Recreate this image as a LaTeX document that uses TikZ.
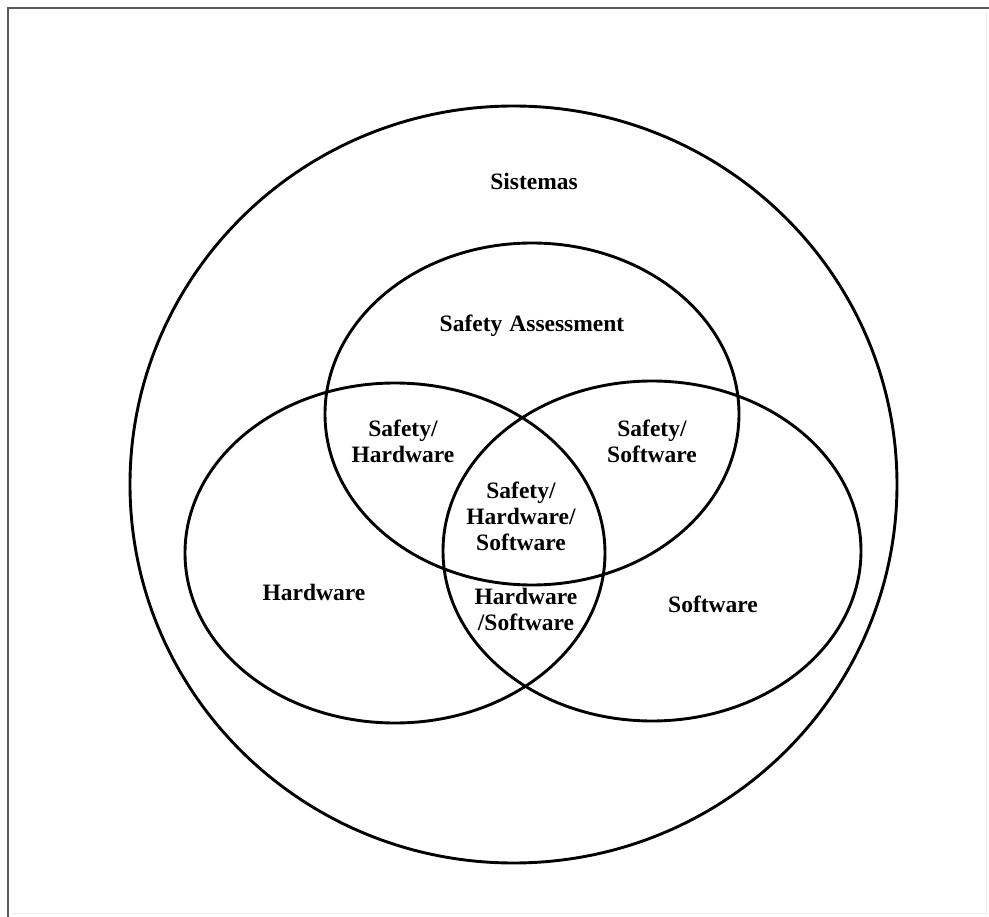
\documentclass[tikz,border=0pt]{standalone}
\usepackage{fontspec}
\setmainfont{Liberation Serif}

\begin{document}
\begin{tikzpicture}[x=1pt, y=-1pt, line width=2.9pt,
    setlabel/.style={font=\bfseries\fontsize{23.5}{26}\selectfont, align=center, inner sep=0pt}]
    \useasboundingbox (0,0) rectangle (989,917);
    % frame
    \draw[line width=2pt, black!65] (8,917) -- (8,8) -- (989,8);
    \draw[line width=1pt, black!8] (986,12) -- (986,913) -- (12,913);
    % sets
    \draw (513.5,484.5) ellipse [x radius=383.5, y radius=378.5]
          (532,414) ellipse [x radius=207, y radius=171]
          (395,553) ellipse [x radius=210, y radius=170]
          (652,551) ellipse [x radius=209, y radius=170];
    % labels
    \node[setlabel] (sis) at (534,181) {Sistemas};
    \node[setlabel] (saf) at (532,326) {Safety\hspace{.3em}Assessment};
    \node[setlabel] (safhw) at (403,441) {Safety/\\Hardware};
    \node[setlabel] (safsw) at (652,441) {Safety/\\Software};
    \node[setlabel] (all) at (521,516) {Safety/\\Hardware/\\Software};
    \node[setlabel] (hw) at (314,592) {Hardware};
    \node[setlabel] (hwsw) at (526,609) {Hardware\\/Software};
    \node[setlabel] (sw) at (713,604) {Software};
\end{tikzpicture}
\end{document}
